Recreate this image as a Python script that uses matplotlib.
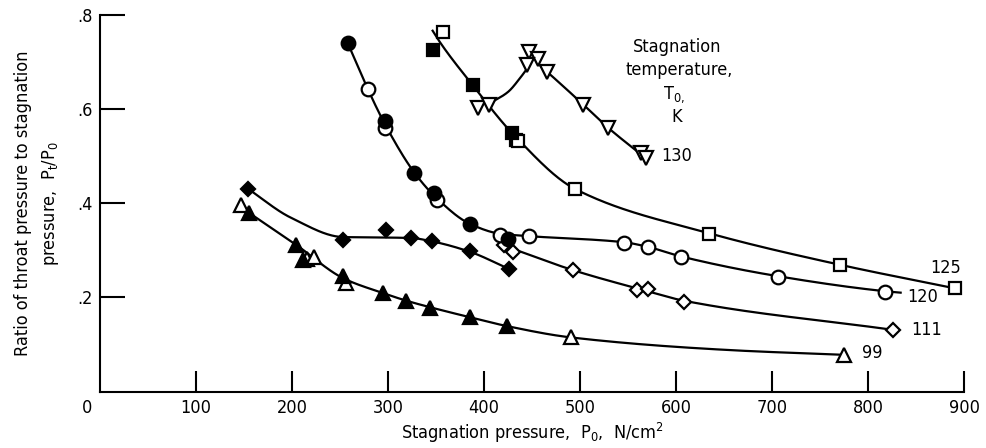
import numpy as np
import matplotlib
matplotlib.use('Agg')
import matplotlib.pyplot as plt
from matplotlib import font_manager

# narrow sans if one is around, otherwise plain Liberation Sans
_names = {(f.name, f.stretch) for f in font_manager.fontManager.ttflist}
_family_names = {n for n, _ in _names}
if 'Liberation Sans Narrow' in _family_names:
    base_font, base_stretch, base_size = 'Liberation Sans Narrow', 'normal', 14.5
elif ('DejaVu Sans', 'condensed') in _names or ('DejaVu Sans', 'semi-condensed') in _names:
    base_font, base_stretch, base_size = 'DejaVu Sans', 'condensed', 13
else:
    base_font, base_stretch, base_size = 'Liberation Sans', 'normal', 13.5

plt.rcParams['font.family'] = [base_font, 'DejaVu Sans']
plt.rcParams['font.stretch'] = base_stretch
plt.rcParams['font.size'] = base_size

# T0 = 99 K (triangles)
t99_filled_x = [154.9, 204.0, 211.0, 253.5, 295.0, 319.0, 344.0, 385.0, 424.0]
t99_filled_y = [0.380, 0.312, 0.280, 0.245, 0.209, 0.192, 0.178, 0.158, 0.139]
t99_open_x = [147.0, 215.6, 222.6, 256.0, 490.6, 775.3]
t99_open_y = [0.396, 0.281, 0.285, 0.230, 0.115, 0.078]
t99_curve_x = [154.9, 204.0, 254.0, 295.0, 319.0, 344.0, 385.0, 424.0, 490.6, 657.0, 775.3]
t99_curve_y = [0.380, 0.312, 0.240, 0.209, 0.193, 0.179, 0.158, 0.139, 0.115, 0.088, 0.078]

# T0 = 111 K (diamonds)
t111_filled_x = [153.8, 253.5, 297.9, 323.9, 345.5, 385.0, 426.4]
t111_filled_y = [0.431, 0.322, 0.343, 0.327, 0.320, 0.298, 0.260]
t111_open_x = [420.5, 429.9, 492.4, 559.4, 571.1, 608.0, 826.4]
t111_open_y = [0.311, 0.297, 0.258, 0.216, 0.217, 0.191, 0.131]
t111_curve_a_x = [153.8, 199.0, 253.5, 298.0, 324.0, 345.5, 385.0, 426.4]
t111_curve_a_y = [0.431, 0.369, 0.328, 0.327, 0.326, 0.319, 0.297, 0.260]
t111_curve_b_x = [420.5, 430.0, 492.4, 565.0, 608.0, 826.4]
t111_curve_b_y = [0.310, 0.303, 0.258, 0.216, 0.193, 0.131]

# T0 = 120 K (circles)
t120_filled_x = [258.0, 297.2, 327.4, 347.6, 385.4, 425.3]
t120_filled_y = [0.740, 0.575, 0.465, 0.422, 0.356, 0.323]
t120_open_x = [278.8, 297.2, 351.0, 417.0, 446.5, 546.2, 571.2, 605.2, 706.0, 818.0]
t120_open_y = [0.642, 0.559, 0.407, 0.332, 0.331, 0.316, 0.3075, 0.286, 0.244, 0.212]
t120_curve_x = [258.0, 279.0, 297.0, 327.4, 349.0, 385.4, 417.0, 446.5, 546.0, 571.0, 605.0, 706.0, 818.0, 834.0]
t120_curve_y = [0.740, 0.642, 0.567, 0.465, 0.414, 0.356, 0.335, 0.330, 0.317, 0.307, 0.287, 0.245, 0.213, 0.210]

# T0 = 125 K (squares)
t125_filled_x = [347.2, 388.2, 428.8]
t125_filled_y = [0.725, 0.651, 0.549]
t125_open_x = [357.6, 433.3, 435.7, 495.0, 634.7, 771.2, 891.0]
t125_open_y = [0.764, 0.535, 0.532, 0.429, 0.335, 0.269, 0.219]
t125_curve_x = [346.5, 355.0, 388.0, 431.0, 495.0, 634.7, 771.2, 891.0]
t125_curve_y = [0.766, 0.739, 0.651, 0.545, 0.430, 0.336, 0.269, 0.219]

# T0 = 130 K (inverted triangles)
t130_open_x = [393.4, 405.5, 447.2, 455.9, 444.8, 465.6, 503.0, 528.8, 563.5, 568.75]
t130_open_y = [0.601, 0.608, 0.721, 0.707, 0.693, 0.679, 0.608, 0.559, 0.507, 0.495]
t130_curve_a_x = [407.0, 425.0, 438.5, 444.0]
t130_curve_a_y = [0.613, 0.636, 0.668, 0.683]
t130_curve_b_x = [459.4, 465.6, 503.0, 528.8, 568.75]
t130_curve_b_y = [0.690, 0.679, 0.610, 0.561, 0.495]

x_ticks = [100, 200, 300, 400, 500, 600, 700, 800, 900]
y_ticks = [0.2, 0.4, 0.6, 0.8]
y_tick_labels = ['.2', '.4', '.6', '.8']


def fair_curve(xk, yk, n=300):
    # monotone piecewise cubic (Fritsch-Carlson) through the knots
    xk = np.asarray(xk, float)
    yk = np.asarray(yk, float)
    h = np.diff(xk)
    d = np.diff(yk) / h
    m = np.zeros_like(xk)
    m[0], m[-1] = d[0], d[-1]
    for i in range(1, len(xk) - 1):
        if d[i - 1] * d[i] > 0:
            w1 = 2 * h[i] + h[i - 1]
            w2 = h[i] + 2 * h[i - 1]
            m[i] = (w1 + w2) / (w1 / d[i - 1] + w2 / d[i])
    xs = np.linspace(xk[0], xk[-1], n)
    i = np.clip(np.searchsorted(xk, xs) - 1, 0, len(h) - 1)
    t = (xs - xk[i]) / h[i]
    h00 = 2 * t**3 - 3 * t**2 + 1
    h10 = t**3 - 2 * t**2 + t
    h01 = -2 * t**3 + 3 * t**2
    h11 = t**3 - t**2
    ys = h00 * yk[i] + h10 * h[i] * m[i] + h01 * yk[i + 1] + h11 * h[i] * m[i + 1]
    return xs, ys


fig = plt.figure(figsize=(9.87, 4.48), dpi=100)
ax = fig.add_axes([0.1013, 0.1259, 0.8754, 0.8413])

for cx, cy in [(t99_curve_x, t99_curve_y), (t111_curve_a_x, t111_curve_a_y),
               (t111_curve_b_x, t111_curve_b_y), (t120_curve_x, t120_curve_y),
               (t125_curve_x, t125_curve_y), (t130_curve_a_x, t130_curve_a_y),
               (t130_curve_b_x, t130_curve_b_y)]:
    xs, ys = fair_curve(cx, cy)
    ax.plot(xs, ys, color='black', lw=1.6, zorder=2)

sizes = {'o': 9.8, 's': 9.2, '^': 9.8, 'v': 9.8, 'D': 7.0}
series = [
    ('^', t99_open_x, t99_open_y, t99_filled_x, t99_filled_y),
    ('D', t111_open_x, t111_open_y, t111_filled_x, t111_filled_y),
    ('o', t120_open_x, t120_open_y, t120_filled_x, t120_filled_y),
    ('s', t125_open_x, t125_open_y, t125_filled_x, t125_filled_y),
    ('v', t130_open_x, t130_open_y, [], []),
]
for mk, ox, oy, fx, fy in series:
    ax.plot(ox, oy, ls='none', marker=mk, ms=sizes[mk], mfc='white', mec='black',
            mew=1.6, zorder=3)
    if fx:
        ax.plot(fx, fy, ls='none', marker=mk, ms=sizes[mk], mfc='black', mec='black',
                mew=1.6, zorder=4)

# temperature labels at the curve ends
ax.annotate('130', xy=(t130_open_x[-1], t130_open_y[-1]), xytext=(11, 2),
            textcoords='offset points', ha='left', va='center')
ax.annotate('125', xy=(t125_open_x[-1], t125_open_y[-1]), xytext=(-7, 15),
            textcoords='offset points', ha='center', va='center')
ax.annotate('120', xy=(t120_open_x[-1], t120_open_y[-1]), xytext=(16, -4),
            textcoords='offset points', ha='left', va='center')
ax.annotate('111', xy=(t111_open_x[-1], t111_open_y[-1]), xytext=(13, 0),
            textcoords='offset points', ha='left', va='center')
ax.annotate('99', xy=(t99_open_x[-1], t99_open_y[-1]), xytext=(13, 1),
            textcoords='offset points', ha='left', va='center')

ax.text(601, 0.732, 'Stagnation', ha='center', va='center')
ax.text(603, 0.683, 'temperature,', ha='center', va='center')
ax.text(598, 0.630, r'$\mathregular{T_{0,}}$', ha='center', va='center')
ax.text(601, 0.582, 'K', ha='center', va='center')

ax.set_xlim(0, 900)
ax.set_ylim(0, 0.8)
ax.set_xticks(x_ticks)
ax.set_yticks(y_ticks, y_tick_labels)
ax.annotate('0', xy=(0, 0), xytext=(-9, -5), textcoords='offset points',
            ha='center', va='top', annotation_clip=False)

for side in ['top', 'right']:
    ax.spines[side].set_visible(False)
for side in ['left', 'bottom']:
    ax.spines[side].set_linewidth(1.5)
ax.tick_params(axis='x', direction='in', length=15, width=1.5, pad=5)
ax.tick_params(axis='y', direction='in', length=18, width=1.5, pad=5)

ax.set_xlabel(r'Stagnation pressure,  $\mathregular{P_0}$,  N/cm$\mathregular{^2}$',
              labelpad=3)
ax.set_ylabel('Ratio of throat pressure to stagnation\n'
              r'pressure,  $\mathregular{P_t/P_0}$', labelpad=12, linespacing=1.55)

fig.savefig('out.png', dpi=100)
